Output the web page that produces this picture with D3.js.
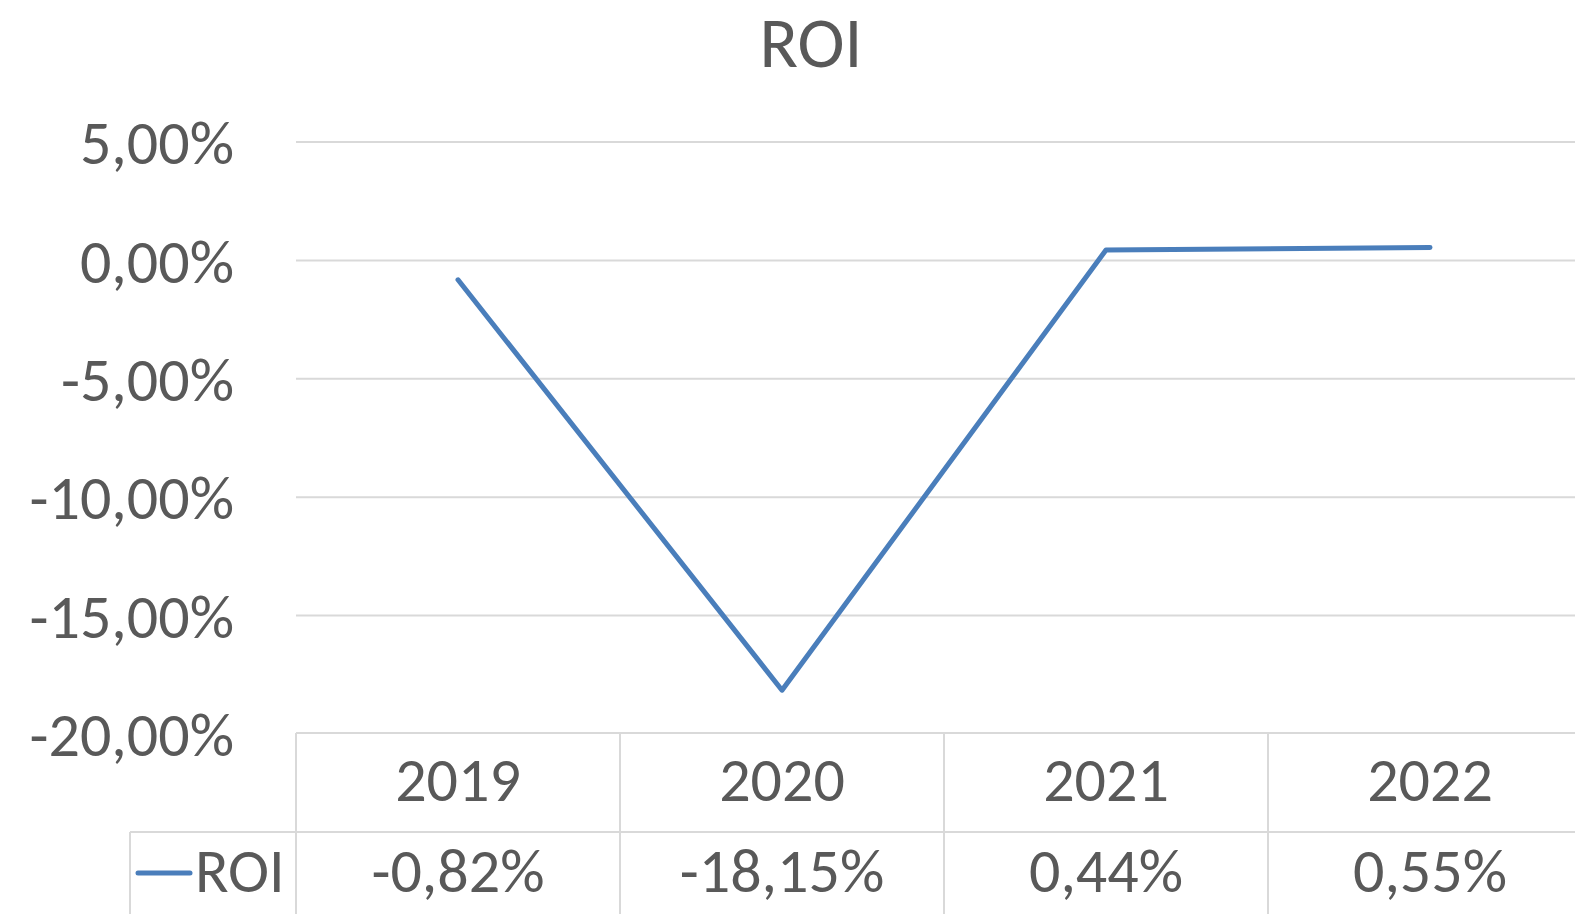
<!DOCTYPE html>
<html>
<head>
<meta charset="utf-8">
<script src="https://cdn.jsdelivr.net/npm/d3@7"></script>
<style>
  html, body { margin: 0; padding: 0; background: #fff; }
  svg { display: block; }
  text { font-family: Carlito, "Open Sans", sans-serif; fill: #595959; }
</style>
</head>
<body>
<div id="chart"></div>
<script>
const categories = ["2019", "2020", "2021", "2022"];
const roiValues = [-0.82, -18.15, 0.44, 0.55];
const roiLabels = ["-0,82%", "-18,15%", "0,44%", "0,55%"];
const yTicks = [5, 0, -5, -10, -15, -20];
const seriesName = "ROI";

const w = 1575;
const h = 914;
const fontSize = 62;

const svg = d3.select("#chart")
              .append("svg")
              .attr("width", w)
              .attr("height", h);

const xScale = d3.scaleBand()
                 .domain(categories)
                 .range([296, 1592]);

const yScale = d3.scaleLinear()
                 .domain([-20, 5])
                 .range([734, 142]);

// excel style: comma decimal, plain hyphen
const fmt = (d) => d3.format(".2f")(d).replace(".", ",").replace("\u2212", "-") + "%";

// title
svg.append("text")
   .attr("x", 811)
   .attr("y", 67)
   .attr("text-anchor", "middle")
   .style("font-size", "71px")
   .text(seriesName);

// gridlines
svg.append("g")
   .selectAll("line")
   .data(yTicks.filter(d => d > -20))
   .enter()
   .append("line")
   .attr("x1", 296)
   .attr("x2", w)
   .attr("y1", d => yScale(d))
   .attr("y2", d => yScale(d))
   .attr("stroke", "#d9d9d9")
   .attr("stroke-width", 2);

// y axis labels
const yAxis = d3.axisLeft(yScale).tickValues(yTicks).tickFormat(fmt).tickSize(0).tickPadding(0);
const yg = svg.append("g")
   .attr("transform", "translate(234,0)")
   .call(yAxis);
yg.select(".domain").remove();
yg.selectAll("text")
  .attr("dy", "0.35em")
  .style("font-size", fontSize + "px")
  .style("font-family", "Carlito, 'Open Sans', sans-serif")
  .attr("fill", "#595959");

// data table
const tableTop = yScale(-20) - 1;
const rowDiv = 832;
const grid = svg.append("g").attr("stroke", "#d9d9d9").attr("stroke-width", 2);
grid.append("line").attr("x1", 296).attr("x2", w).attr("y1", tableTop).attr("y2", tableTop);
grid.append("line").attr("x1", 130).attr("x2", w).attr("y1", rowDiv).attr("y2", rowDiv);
grid.append("line").attr("x1", 130).attr("x2", 130).attr("y1", rowDiv).attr("y2", h);
grid.selectAll(".col")
    .data(categories)
    .enter()
    .append("line")
    .attr("class", "col")
    .attr("x1", d => xScale(d))
    .attr("x2", d => xScale(d))
    .attr("y1", tableTop)
    .attr("y2", h);

svg.selectAll(".cat")
   .data(categories)
   .enter()
   .append("text")
   .attr("class", "cat")
   .attr("x", d => xScale(d) + xScale.bandwidth() / 2)
   .attr("y", 801)
   .attr("text-anchor", "middle")
   .style("font-size", fontSize + "px")
   .text(d => d);

svg.selectAll(".val")
   .data(roiLabels)
   .enter()
   .append("text")
   .attr("class", "val")
   .attr("x", (d, i) => xScale(categories[i]) + xScale.bandwidth() / 2)
   .attr("y", 892)
   .attr("text-anchor", "middle")
   .style("font-size", fontSize + "px")
   .text(d => d);

// legend key
svg.append("line")
   .attr("x1", 138).attr("x2", 190)
   .attr("y1", 873).attr("y2", 873)
   .attr("stroke", "#4a7ebb")
   .attr("stroke-width", 5)
   .attr("stroke-linecap", "round");
svg.append("text")
   .attr("x", 195)
   .attr("y", 892)
   .style("font-size", fontSize + "px")
   .text(seriesName);

// line
const line = d3.line()
               .x((d, i) => xScale(categories[i]) + xScale.bandwidth() / 2)
               .y(d => yScale(d));

svg.append("path")
   .datum(roiValues)
   .attr("d", line)
   .attr("fill", "none")
   .attr("stroke", "#4a7ebb")
   .attr("stroke-width", 5)
   .attr("stroke-linecap", "round")
   .attr("stroke-linejoin", "round");
</script>
</body>
</html>
